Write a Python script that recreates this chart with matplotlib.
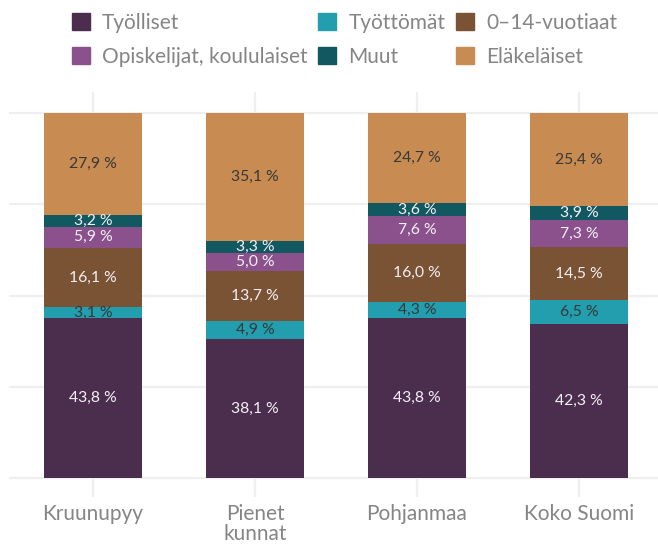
import matplotlib.pyplot as plt
from matplotlib.patches import Patch
import numpy as np

plt.rcParams['font.family'] = ['Lato', 'DejaVu Sans']

# alueet ja osuudet (%)
alueet = ['Kruunupyy', 'Pienet\nkunnat', 'Pohjanmaa', 'Koko Suomi']
sarjat = ['Työlliset', 'Työttömät', '0–14-vuotiaat',
          'Opiskelijat, koululaiset', 'Muut', 'Eläkeläiset']
tyolliset = [43.8, 38.1, 43.8, 42.3]
tyottomat = [3.1, 4.9, 4.3, 6.5]
lapset = [16.1, 13.7, 16.0, 14.5]
opiskelijat = [5.9, 5.0, 7.6, 7.3]
muut = [3.2, 3.3, 3.6, 3.9]
elakelaiset = [27.9, 35.1, 24.7, 25.4]

arvot = [tyolliset, tyottomat, lapset, opiskelijat, muut, elakelaiset]
varit = ['#4b2e4e', '#229eae', '#7a5234', '#8b518d', '#115860', '#c88b52']
tekstivarit = ['#f4f0f4', '#383838', '#f4f0f4', '#f4f0f4', '#f4f0f4', '#383838']

fig = plt.figure(figsize=(6.58, 5.45), dpi=100)
ax = fig.add_axes([9 / 658, 48 / 545, 649 / 658, 405 / 545])

x = np.arange(len(alueet))
pohja = np.zeros(len(alueet))
for nimi, arvo, vari, tv in zip(sarjat, arvot, varit, tekstivarit):
    arvo = np.array(arvo)
    ax.bar(x, arvo, bottom=pohja, width=0.605, color=vari, label=nimi, zorder=3)
    for xi, b, v in zip(x, pohja, arvo):
        ax.text(xi, b + v / 2, f'{v:.1f} %'.replace('.', ','), ha='center', va='center',
                fontsize=11.3, color=tv, zorder=4)
    pohja += arvo

ax.set_xlim(-0.5185, 3.4877)
ax.set_ylim(-5.2, 105.75)
ax.set_yticks([0, 25, 50, 75, 100])
ax.set_xticks(x)
ax.set_xticklabels(alueet, fontsize=15, color='#858585', linespacing=1.0)
ax.tick_params(axis='x', length=0, pad=5)
ax.tick_params(axis='y', length=0, labelleft=False)
ax.grid(True, color='#efefef', linewidth=1.6, zorder=0)
for s in ax.spines.values():
    s.set_visible(False)

kahvat = [Patch(color=c) for c in varit]
jarjestys = [0, 3, 1, 4, 2, 5]
fig.legend([kahvat[i] for i in jarjestys], [sarjat[i] for i in jarjestys],
           ncol=3, loc='upper left', bbox_to_anchor=(72 / 658, 1 - 13 / 545),
           frameon=False, fontsize=15, labelcolor='#858585', borderpad=0, borderaxespad=0,
           handlelength=0.85, handleheight=0.85, handletextpad=0.6, columnspacing=0.5,
           labelspacing=0.65)

fig.savefig('out.png', dpi=100)
